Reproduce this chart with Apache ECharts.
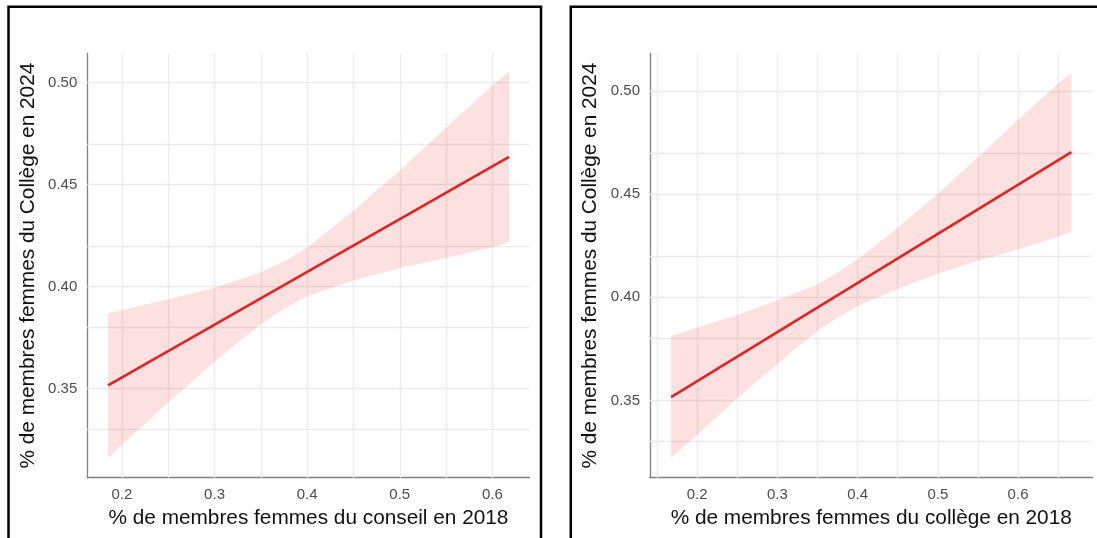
<!DOCTYPE html>
<html>
<head>
<meta charset="utf-8">
<script src="https://cdn.jsdelivr.net/npm/echarts@6/dist/echarts.min.js"></script>
<style>
  html, body { margin: 0; padding: 0; background: #ffffff; }
  #chart { width: 1097px; height: 538px; }
</style>
</head>
<body>
<div id="chart"></div>
<script>
// ---------- Data ----------
// Left panel: conseil 2018 -> Collège 2024
const xBandLeft  = [0.185, 0.2, 0.25, 0.3, 0.35, 0.375, 0.4, 0.45, 0.5, 0.55, 0.6, 0.618];
const upperLeft  = [0.3871, 0.3885, 0.3938, 0.3995, 0.4071, 0.4124, 0.4191, 0.4374, 0.4570, 0.4779, 0.4987, 0.5054];
const lowerLeft  = [0.3161, 0.3225, 0.3432, 0.3633, 0.3816, 0.3892, 0.3953, 0.4030, 0.4092, 0.4141, 0.4193, 0.4218];
const fitXLeft   = [0.185, 0.618];
const fitYLeft   = [0.3516, 0.4636];

// Right panel: collège 2018 -> Collège 2024
const xBandRight = [0.1676, 0.2, 0.25, 0.3, 0.35, 0.375, 0.4, 0.45, 0.5, 0.55, 0.6, 0.65, 0.6665];
const upperRight = [0.3812, 0.3854, 0.3914, 0.3986, 0.4064, 0.4121, 0.4183, 0.4338, 0.4502, 0.4679, 0.4863, 0.5038, 0.5090];
const lowerRight = [0.3220, 0.3333, 0.3510, 0.3678, 0.3838, 0.3901, 0.3957, 0.4040, 0.4114, 0.4177, 0.4232, 0.4294, 0.4320];
const fitXRight  = [0.1676, 0.6665];
const fitYRight  = [0.3516, 0.4705];

// Axis ranges
const xRangeLeft  = [0.1626, 0.6402];
const yRangeLeft  = [0.3064, 0.5143];
const xRangeRight = [0.1413, 0.6928];
const yRangeRight = [0.3125, 0.5183];

// Tick labels and grid lines
const xTicks = [0.2, 0.3, 0.4, 0.5, 0.6];
const yTicks = [0.35, 0.40, 0.45, 0.50];
const xGridLeft  = [0.2, 0.25, 0.3, 0.35, 0.4, 0.45, 0.5, 0.55, 0.6];
const yGridLeft  = [0.325, 0.35, 0.375, 0.4, 0.425, 0.45, 0.475, 0.5];
const xGridRight = [0.15, 0.2, 0.25, 0.3, 0.35, 0.4, 0.45, 0.5, 0.55, 0.6, 0.65];
const yGridRight = [0.325, 0.35, 0.375, 0.4, 0.425, 0.45, 0.475, 0.5];

const xTitleLeft  = '% de membres femmes du conseil en 2018';
const xTitleRight = '% de membres femmes du collège en 2018';
const yTitle      = '% de membres femmes du Collège en 2024';

// ---------- Styling ----------
const FONT = '"Liberation Sans", Arial, Helvetica, sans-serif';
const BAND_COLOR = 'rgba(240,40,45,0.14)';
const LINE_COLOR = '#e3231f';
const GRID_COLOR = '#ebebeb';
const AXIS_COLOR = '#808080';

function xAxisDef(idx, range, title) {
  return {
    gridIndex: idx, type: 'value', min: range[0], max: range[1],
    splitLine: { show: false }, axisTick: { show: false },
    axisLine: { show: true, lineStyle: { color: AXIS_COLOR, width: 1.3 } },
    axisLabel: {
      customValues: xTicks, color: '#4d4d4d', fontSize: 15, fontFamily: FONT, margin: 10,
      formatter: v => Number(v).toFixed(1)
    },
    name: title, nameLocation: 'middle', nameGap: 30,
    nameTextStyle: { color: '#111', fontSize: 20.8, fontFamily: FONT }
  };
}
function yAxisDef(idx, range) {
  return {
    gridIndex: idx, type: 'value', min: range[0], max: range[1],
    splitLine: { show: false }, axisTick: { show: false },
    axisLine: { show: true, lineStyle: { color: AXIS_COLOR, width: 1.3 } },
    axisLabel: {
      customValues: yTicks, color: '#4d4d4d', fontSize: 15, fontFamily: FONT, margin: 10,
      formatter: v => Number(v).toFixed(2)
    },
    name: yTitle, nameLocation: 'middle', nameGap: 49,
    nameTextStyle: { color: '#111', fontSize: 20.8, fontFamily: FONT }
  };
}
function gridLinesSeries(idx, xs, ys) {
  return {
    type: 'line', xAxisIndex: idx, yAxisIndex: idx, data: [], z: 1, silent: true,
    markLine: {
      silent: true, symbol: ['none', 'none'], animation: false, z: 1,
      label: { show: false },
      emphasis: { disabled: true },
      lineStyle: { color: GRID_COLOR, width: 1.3, type: 'solid' },
      data: xs.map(v => ({ xAxis: v })).concat(ys.map(v => ({ yAxis: v })))
    }
  };
}
function bandSeries(idx, xs, lo, hi) {
  return {
    type: 'custom', xAxisIndex: idx, yAxisIndex: idx, z: 5, silent: true,
    data: xs.map((x, i) => [x, lo[i], hi[i]]),
    encode: { x: 0, y: [1, 2] },
    renderItem: function (params, api) {
      if (params.dataIndex !== 0) return null;
      const pts = [];
      for (let i = 0; i < xs.length; i++) pts.push(api.coord([xs[i], hi[i]]));
      for (let i = xs.length - 1; i >= 0; i--) pts.push(api.coord([xs[i], lo[i]]));
      return { type: 'polygon', shape: { points: pts }, style: { fill: BAND_COLOR } };
    }
  };
}
function fitSeries(idx, xs, ys) {
  return {
    type: 'line', xAxisIndex: idx, yAxisIndex: idx, z: 6, silent: true,
    showSymbol: false, symbol: 'none',
    lineStyle: { color: LINE_COLOR, width: 2.6 },
    data: xs.map((x, i) => [x, ys[i]])
  };
}

const chart = echarts.init(document.getElementById('chart'), null, { renderer: 'canvas' });
chart.setOption({
  animation: false,
  backgroundColor: '#ffffff',
  textStyle: { fontFamily: FONT },
  grid: [
    { left: 87.3, top: 53.5, width: 442.3, height: 424.2, containLabel: false },
    { left: 650,  top: 53.5, width: 442.5, height: 424.2, containLabel: false }
  ],
  xAxis: [xAxisDef(0, xRangeLeft, xTitleLeft), xAxisDef(1, xRangeRight, xTitleRight)],
  yAxis: [yAxisDef(0, yRangeLeft), yAxisDef(1, yRangeRight)],
  series: [
    gridLinesSeries(0, xGridLeft, yGridLeft),
    gridLinesSeries(1, xGridRight, yGridRight),
    bandSeries(0, xBandLeft, lowerLeft, upperLeft),
    bandSeries(1, xBandRight, lowerRight, upperRight),
    fitSeries(0, fitXLeft, fitYLeft),
    fitSeries(1, fitXRight, fitYRight)
  ],
  graphic: [
    { type: 'rect', silent: true, z: 100,
      shape: { x: 8.5, y: 6.7, width: 532.5, height: 700 },
      style: { fill: 'none', stroke: '#000', lineWidth: 2.5 } },
    { type: 'rect', silent: true, z: 100,
      shape: { x: 570.8, y: 6.7, width: 700, height: 700 },
      style: { fill: 'none', stroke: '#000', lineWidth: 2.5 } }
  ]
});
</script>
</body>
</html>
